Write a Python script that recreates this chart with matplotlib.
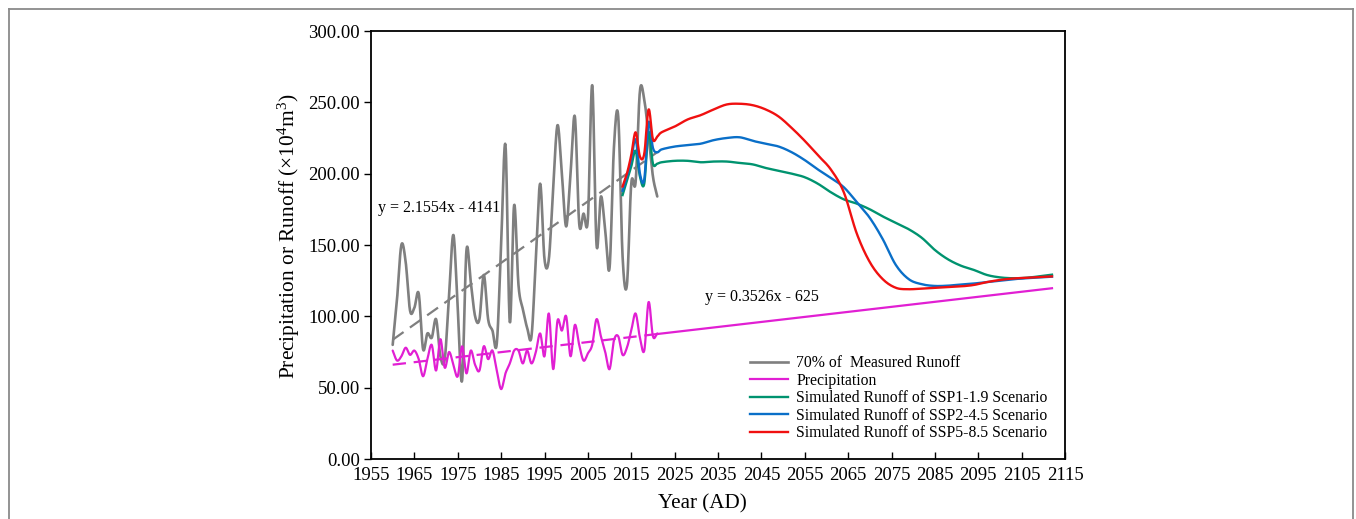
import numpy as np
import matplotlib
matplotlib.use("Agg")
import matplotlib.pyplot as plt
from matplotlib.lines import Line2D

plt.rcParams['font.family'] = ['Liberation Serif', 'DejaVu Serif']
plt.rcParams['mathtext.fontset'] = 'custom'
plt.rcParams['mathtext.rm'] = 'Liberation Serif'
plt.rcParams['mathtext.it'] = 'Liberation Serif:italic'

# ---- observed series (annual) ----
obs_years = list(range(1960, 2022))
runoff_70 = [80, 112, 150, 138, 104, 106, 116, 77, 88, 85,
             98, 72, 70, 115, 157, 105, 55, 146, 124, 100,
             98, 129, 98, 90, 81, 150, 220, 96, 178, 122,
             105, 92, 86, 140, 193, 140, 140, 190, 234, 200,
             163, 200, 240, 165, 172, 168, 262, 150, 184, 160,
             134, 218, 240, 142, 122, 193, 194, 258, 252, 226,
             198, 184]
precip = [76, 69, 72, 78, 73, 76, 70, 58, 70, 80,
          62, 84, 64, 75, 66, 58, 79, 60, 76, 66,
          62, 79, 70, 76, 62, 49, 60, 67, 76, 76,
          67, 76, 67, 75, 88, 72, 102, 63, 97, 90,
          100, 72, 94, 80, 69, 74, 80, 98, 86, 75,
          63, 83, 86, 73, 78, 90, 102, 85, 76, 110,
          86, 88]

# ---- simulated runoff under SSP scenarios ----
sim_years = list(range(2013, 2023)) + list(range(2025, 2113, 3))
ssp119 = [185, 195, 205, 216, 198, 193, 229, 207, 207, 208,
          209, 209, 208, 208.5, 208.5, 207.5, 206.5, 204, 202, 200,
          197.5, 193, 187, 182, 179, 175, 170, 165.5, 161, 155,
          146.5, 140, 135.5, 132.5, 129, 127.3, 126.7, 127, 128, 129.2]
ssp245 = [188, 198, 210, 224, 200, 196, 236, 218, 215, 217,
          219, 220, 221, 223.5, 225, 225.5, 223, 221, 219, 215,
          209.5, 203, 197, 190.5, 180, 169, 154, 136, 126, 122.5,
          121.3, 121.5, 122.3, 123, 124, 125, 126, 126.7, 127.2, 127.8]
ssp585 = [191, 200, 213, 229, 212, 214, 245, 224, 226, 229,
          233, 238, 241, 245, 248.5, 249, 248, 245, 240, 232,
          223, 213, 203, 187, 158, 138, 126, 120, 119, 119.5,
          120, 120.5, 121, 122, 124, 125.5, 126.5, 127, 127.5, 128]

# linear fits written on the chart
runoff_fit = (2.1554, -4141)
precip_fit = (0.3526, -625)
fit_end_year = 2112

x_ticks = list(range(1955, 2116, 10))
y_ticks = [0, 50, 100, 150, 200, 250, 300]

legend_labels = ["70% of  Measured Runoff", "Precipitation",
                 "Simulated Runoff of SSP1-1.9 Scenario",
                 "Simulated Runoff of SSP2-4.5 Scenario",
                 "Simulated Runoff of SSP5-8.5 Scenario"]

C_GRAY = '#7f7f7f'
C_MAG = '#e11fd3'
C_GREEN = '#00936f'
C_BLUE = '#0a6fc8'
C_RED = '#f01010'


def smooth(x, y, n=14):
    """Catmull-Rom spline through the points (smoothed-line style)."""
    x = np.asarray(x, float)
    y = np.asarray(y, float)
    px = np.concatenate([[2 * x[0] - x[1]], x, [2 * x[-1] - x[-2]]])
    py = np.concatenate([[2 * y[0] - y[1]], y, [2 * y[-1] - y[-2]]])
    t = np.linspace(0, 1, n, endpoint=False)
    xs, ys = [], []
    for i in range(1, len(px) - 2):
        for arr, out in ((px, xs), (py, ys)):
            p0, p1, p2, p3 = arr[i - 1], arr[i], arr[i + 1], arr[i + 2]
            out.append(0.5 * (2 * p1 + (-p0 + p2) * t
                              + (2 * p0 - 5 * p1 + 4 * p2 - p3) * t ** 2
                              + (-p0 + 3 * p1 - 3 * p2 + p3) * t ** 3))
    xs = np.concatenate(xs + [[x[-1]]])
    ys = np.concatenate(ys + [[y[-1]]])
    return xs, ys


fig = plt.figure(figsize=(13.56, 5.19), dpi=100)
ax = fig.add_axes([371 / 1356, 60 / 519, 694 / 1356, 428 / 519])

# observed series
ax.plot(*smooth(obs_years, runoff_70), color=C_GRAY, lw=1.9, zorder=3,
        solid_capstyle='round')
ax.plot(*smooth(obs_years, precip), color=C_MAG, lw=1.6, zorder=3,
        solid_capstyle='round')

# trend lines
obs_x = np.array([obs_years[0], obs_years[-1]], float)
ax.plot(obs_x, runoff_fit[0] * obs_x + runoff_fit[1], color=C_GRAY, lw=1.6,
        ls=(0, (6, 3.5)), zorder=4)
ax.plot(obs_x, precip_fit[0] * obs_x + precip_fit[1], color=C_MAG, lw=1.6,
        ls=(0, (6, 3.5)), zorder=4)
fut_x = np.array([obs_years[-1], fit_end_year], float)
ax.plot(fut_x, precip_fit[0] * fut_x + precip_fit[1], color=C_MAG, lw=1.6,
        zorder=4)

# simulated scenarios
ax.plot(*smooth(sim_years, ssp119), color=C_GREEN, lw=1.7, zorder=5)
ax.plot(*smooth(sim_years, ssp245), color=C_BLUE, lw=1.7, zorder=6)
ax.plot(*smooth(sim_years, ssp585), color=C_RED, lw=1.7, zorder=7)

ax.set_xlim(1955, 2115)
ax.set_ylim(0, 300)
ax.set_xticks(x_ticks)
ax.set_yticks(y_ticks)
ax.set_yticklabels([f"{v:.2f}" for v in y_ticks])
ax.tick_params(axis='x', direction='in', length=5, width=1, labelsize=13.5,
               pad=6)
ax.tick_params(axis='y', direction='out', length=5, width=1, labelsize=13.5,
               pad=3)
for s in ax.spines.values():
    s.set_linewidth(1.3)

ax.set_xlabel("Year (AD)", fontsize=15.2)
ax.xaxis.set_label_coords(0.478, -0.083)
ax.set_ylabel("Precipitation or Runoff (×10$^4$m$^3$)", fontsize=15.4)
ax.yaxis.set_label_coords(-0.099, 0.52)

ax.text(1956.6, 176, "y = 2.1554x - 4141", fontsize=11.5, va='center',
        ha='left', zorder=8)
ax.text(2032, 113.5, "y = 0.3526x - 625", fontsize=11.5, va='center',
        ha='left', zorder=8)

handles = [Line2D([], [], color=c, lw=lw) for c, lw in
           ((C_GRAY, 1.9), (C_MAG, 1.6), (C_GREEN, 1.7), (C_BLUE, 1.7),
            (C_RED, 1.7))]
ax.legend(handles, legend_labels, loc='upper left',
          bbox_to_anchor=((750 - 371) / 694, (459 - 355) / 428),
          frameon=False, fontsize=11.3, handlelength=2.4, handletextpad=0.55,
          labelspacing=0.1, borderpad=0, borderaxespad=0)

# thin frame around the figure
frame_kw = dict(color='#8a8a8a', lw=1.3, transform=fig.transFigure,
                clip_on=False)
x0, x1, ytop = 8.5 / 1356, 1352.5 / 1356, 1 - 8.5 / 519
fig.add_artist(Line2D([x0, x1], [ytop, ytop], **frame_kw))
fig.add_artist(Line2D([x0, x0], [ytop, -0.1], **frame_kw))
fig.add_artist(Line2D([x1, x1], [ytop, -0.1], **frame_kw))

fig.savefig("out.png", dpi=100)
